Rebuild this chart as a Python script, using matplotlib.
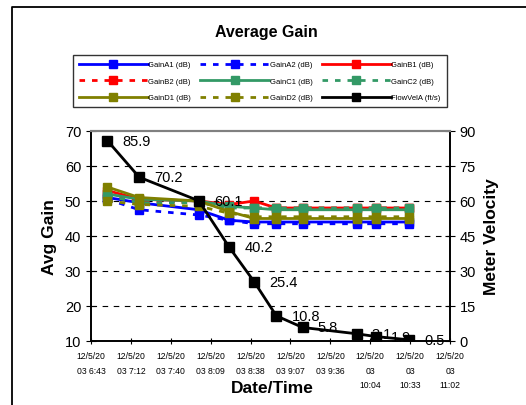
import matplotlib
matplotlib.use("Agg")
import matplotlib.pyplot as plt
from matplotlib.lines import Line2D

plt.rcParams['font.family'] = ['Liberation Sans', 'DejaVu Sans']

# sample times (12/5/2003) and values
times = ["6:55", "7:18", "8:01", "8:23", "8:41", "8:57", "9:16", "9:55", "10:09", "10:33"]
flow_vel = [85.9, 70.2, 60.1, 40.2, 25.4, 10.8, 5.8, 3.1, 1.9, 0.5]

gain_a1 = [51.0, 49.5, 47.5, 44.5, 44.0, 44.0, 44.0, 44.0, 44.0, 44.0]
gain_a2 = [50.5, 47.5, 46.0, 44.5, 43.5, 43.5, 43.5, 43.5, 43.5, 43.5]
gain_b1 = [53.0, 50.5, 50.0, 49.0, 50.0, 48.0, 48.0, 48.0, 48.0, 48.0]
gain_b2 = [52.0, 50.0, 49.5, 48.5, 48.0, 48.0, 48.0, 48.0, 48.0, 48.0]
gain_c1 = [52.0, 50.5, 50.0, 48.5, 48.0, 47.5, 47.5, 47.5, 47.5, 47.5]
gain_c2 = [51.5, 49.5, 49.5, 48.0, 48.0, 48.0, 48.0, 48.0, 48.0, 48.0]
gain_d1 = [54.0, 51.0, 50.0, 47.0, 45.0, 45.0, 45.0, 45.0, 45.0, 45.0]
gain_d2 = [50.0, 49.0, 48.5, 46.5, 45.5, 45.5, 45.5, 45.5, 45.5, 45.5]

tick_labels = ["12/5/20\n03 6:43", "12/5/20\n03 7:12", "12/5/20\n03 7:40", "12/5/20\n03 8:09",
               "12/5/20\n03 8:38", "12/5/20\n03 9:07", "12/5/20\n03 9:36", "12/5/20\n03\n10:04",
               "12/5/20\n03\n10:33", "12/5/20\n03\n11:02"]


def day_frac(s):
    h, m = s.split(":")
    return (int(h) * 60 + int(m)) / 1440.0


x = [day_frac(t) for t in times]
xticks = [0.28 + 0.02 * i for i in range(10)]

fig = plt.figure(figsize=(5.26, 4.06), dpi=100)
# outer chart border (only left and top edges fall inside the picture)
fig.add_artist(Line2D([12 / 526, 12 / 526, 1.0], [0.0, 1 - 8 / 406, 1 - 8 / 406],
                      transform=fig.transFigure, color='black', lw=1.3))

ax = fig.add_axes([91 / 526, 1 - 342 / 406, 359 / 526, 210 / 406])
ax2 = ax.twinx()

olive = '#808000'
green = '#339966'
series = [
    ("GainA1 (dB)", gain_a1, 'blue', '-'),
    ("GainA2 (dB)", gain_a2, 'blue', (0, (2, 2.5))),
    ("GainB1 (dB)", gain_b1, 'red', '-'),
    ("GainB2 (dB)", gain_b2, 'red', (0, (2, 2.5))),
    ("GainC1 (dB)", gain_c1, green, '-'),
    ("GainC2 (dB)", gain_c2, green, (0, (2, 2.5))),
    ("GainD1 (dB)", gain_d1, olive, '-'),
    ("GainD2 (dB)", gain_d2, olive, (0, (2, 2.5))),
]
handles = {}
for name, vals, col, ls in series:
    h, = ax.plot(x, vals, color=col, ls=ls, lw=2, marker='s', ms=6, mec=col, mfc=col)
    handles[name] = h

hf, = ax2.plot(x, flow_vel, color='black', lw=2, marker='s', ms=7)
handles["FlowVelA (ft/s)"] = hf
for xi, v in zip(x, flow_vel):
    ax2.annotate(f"{v}", (xi, v), xytext=(11, 0), textcoords='offset points',
                 fontsize=10.5, va='center', ha='left')

ax.set_xlim(0.28, 0.46)
ax.set_ylim(10, 70)
ax2.set_ylim(0, 90)
ax.set_yticks(range(10, 71, 10))
ax2.set_yticks(range(0, 91, 15))
ax.set_xticks(xticks)
ax.set_xticklabels(tick_labels, fontsize=6.2, linespacing=1.75, va='top')
ax.tick_params(axis='x', direction='inout', length=5, pad=5)
ax.tick_params(axis='y', direction='inout', length=7, labelsize=10.5)
ax2.tick_params(axis='y', direction='inout', length=7, labelsize=10.5)

for yv in range(20, 70, 10):
    ax.axhline(yv, color='black', ls=(0, (5, 5)), lw=0.8, zorder=0)

for a in (ax, ax2):
    a.spines['top'].set_color('#808080')
    a.spines['top'].set_linewidth(1.5)
    a.spines['left'].set_linewidth(1.2)
    a.spines['right'].set_linewidth(1.2)
    a.spines['bottom'].set_linewidth(1.2)

ax.set_ylabel("Avg Gain", fontsize=12.5, fontweight='bold', labelpad=6)
ax2.set_ylabel("Meter Velocity", fontsize=12.5, fontweight='bold', labelpad=6)
ax.set_xlabel("Date/Time", fontsize=12.5, fontweight='bold', va='center')
ax.xaxis.set_label_coords(0.504, (342 - 389) / 210)

fig.text(266 / 526, 1 - 33 / 406, "Average Gain", fontsize=11.5, fontweight='bold',
         ha='center', va='center')

order = ["GainA1 (dB)", "GainB2 (dB)", "GainD1 (dB)",
         "GainA2 (dB)", "GainC1 (dB)", "GainD2 (dB)",
         "GainB1 (dB)", "GainC2 (dB)", "FlowVelA (ft/s)"]
leg = fig.legend([handles[k] for k in order], order, ncol=3, fontsize=5.5,
                 loc='upper left', bbox_to_anchor=(69 / 526, 1 - 52 / 406),
                 frameon=True, fancybox=False, edgecolor='black', handlelength=9,
                 handletextpad=0.1, columnspacing=1.2, labelspacing=1.2, borderpad=0.8,
                 markerscale=0.9)
leg.get_frame().set_linewidth(1.0)

fig.savefig("out.png", dpi=100)
